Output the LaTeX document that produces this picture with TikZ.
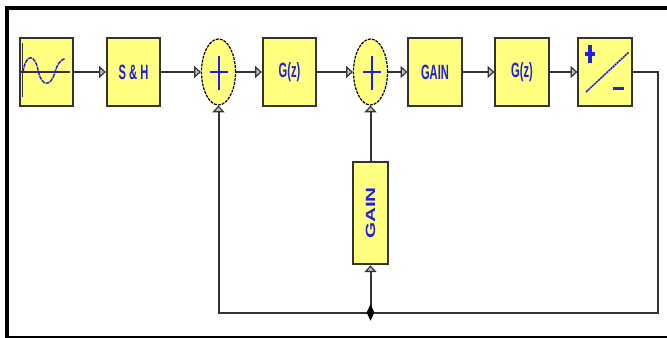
\documentclass[tikz,border=0pt]{standalone}
\usepackage{fontspec}
\setmainfont{Liberation Sans}
\usetikzlibrary{shapes.geometric,arrows.meta}
\definecolor{blockfill}{HTML}{FFFF80}
\definecolor{ink}{HTML}{2020E0}
\definecolor{wire}{HTML}{333333}
\newcommand{\blocktext}[1]{\scalebox{0.54}[1]{#1}}
\tikzset{
  x=0.75pt,y=-0.75pt,
  blockbox/.style={draw=wire,line width=1.5pt,fill=blockfill,minimum width=40pt,minimum height=51pt,inner sep=0pt,text=ink,font=\bfseries\fontsize{15.5}{16}\selectfont},
  sumnode/.style={draw=black,line width=0.9pt,dash pattern=on 2.2pt off 0.8pt,ellipse,fill=blockfill,minimum width=25.5pt,minimum height=49.5pt,inner sep=0pt},
  wireline/.style={draw=wire,line width=1.5pt},
  tip/.style={-{Triangle[length=5pt,width=9pt,fill=gray!50,line width=0.9pt]}},
  gly/.style={draw=ink,line width=1.1pt},
}
\begin{document}
\begin{tikzpicture}
\useasboundingbox (0,0) rectangle (667,338);
\fill[white] (0,0) rectangle (667,338);
\draw[black,line width=3pt] (7,8) -- (667,8);
\draw[black,line width=3pt] (7,6) -- (7,338);
\draw[black,line width=2pt] (5,337) -- (667,337);
\node[blockbox] (src) at (46.5,72) {};
\node[blockbox] (sh) at (133.5,72) {\blocktext{S \& H}};
\node[sumnode] (s1) at (218.5,72) {};
\node[blockbox] (g1) at (289.5,72) {\blocktext{G(z)}};
\node[sumnode] (s2) at (370.5,72) {};
\node[blockbox] (gain) at (435,72) {\blocktext{GAIN}};
\node[blockbox] (g2) at (522,72) {\blocktext{G(z)}};
\node[blockbox] (adc) at (605,72) {};
\node[blockbox,minimum width=26pt,minimum height=77pt,font=\bfseries\fontsize{10}{11}\selectfont] (vgain) at (370.5,213) {\rotatebox{90}{\scalebox{1.55}[1]{GAIN}}};
\coordinate (corner1) at (658,72);
\coordinate (corner2) at (658,312.5);
\coordinate (corner3) at (218.5,312.5);
\coordinate (junc) at (370.5,312.5);
% connectors
\draw[wireline,tip] (src) -- (sh);
\draw[wireline,tip] (sh.east) -- (s1.west);
\draw[wireline,tip] (s1.east) -- (g1.west);
\draw[wireline,tip] (g1.east) -- (s2.west);
\draw[wireline,tip] (s2.east) -- (gain.west);
\draw[wireline,tip] (gain) -- (g2);
\draw[wireline,tip] (g2) -- (adc);
\draw[wireline,tip] (vgain.north) -- (s2.south);
\draw[wireline,tip] (junc) -- (vgain.south);
\draw[wireline,tip] (adc.east) -- (corner1) -- (corner2) -- (corner3) -- (s1.south);
\node[diamond,fill=black,minimum width=6pt,minimum height=12.5pt,inner sep=0pt] (jd) at (junc) {};
% signal source glyph
\draw[draw=black!80,line width=1pt] (22.5,43) -- (22.5,97);
\draw[draw=black!80,line width=1.5pt] (21,72) -- (70,72);
\draw[gly,dash pattern=on 3pt off 0.6pt] (23,72) .. controls (26,53) and (35,53) .. (38.5,72) .. controls (42,87) and (51,87) .. (55,72) .. controls (57,65) and (60,60) .. (65,58.5);
% sum glyphs
\draw[gly] (210,72) -- (228,72);
\draw[gly] (219,56) -- (219,90);
\draw[gly] (363,72) -- (381,72);
\draw[gly] (372,56) -- (372,90);
% adc glyph
\draw[gly,dash pattern=on 1.6pt off 0.5pt,line width=1.2pt] (586,92) -- (629,52);
\draw[draw=ink,line width=2.4pt] (585,54) -- (595,54);
\draw[draw=ink,line width=2.4pt] (590,45) -- (590,63);
\draw[draw=ink,line width=2pt] (613,88.5) -- (624,88.5);
\end{tikzpicture}
\end{document}
